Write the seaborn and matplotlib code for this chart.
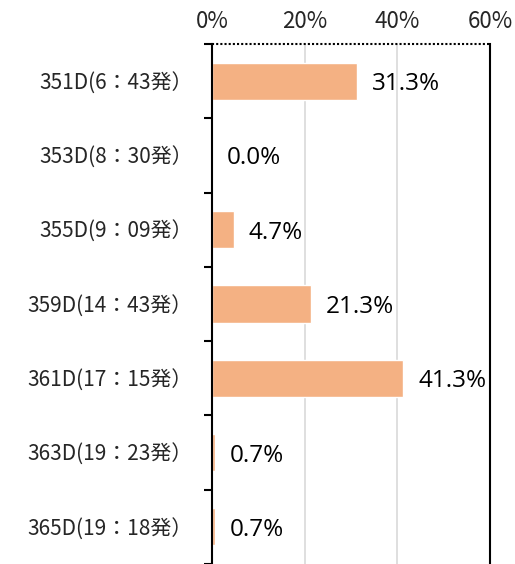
import numpy as np
import pandas as pd
import matplotlib
matplotlib.use("Agg")
import matplotlib.pyplot as plt
import seaborn as sns
from matplotlib.ticker import FixedLocator

trains = ["351D(6：43発）", "353D(8：30発）", "355D(9：09発）", "359D(14：43発）",
          "361D(17：15発）", "363D(19：23発）", "365D(19：18発）"]
shares = [31.3, 0.0, 4.7, 21.3, 41.3, 0.7, 0.7]
x_ticks = [0, 20, 40, 60]
x_ticklabels = ["0%", "20%", "40%", "60%"]

sns.set_style("white")
plt.rcParams['font.family'] = ['Noto Sans CJK JP', 'DejaVu Sans']

df = pd.DataFrame({"train": trains, "share": shares})

fig = plt.figure(figsize=(5.15, 5.64), dpi=100)
ax = fig.add_axes([212 / 515, 0.0, (490 - 212) / 515, 1 - 44 / 564])

sns.barplot(data=df, y="train", x="share", orient="h", color="#F4B183",
            saturation=1, width=0.5, ax=ax)

ax.set_xlim(0, 60)
ax.set_ylim(len(trains) - 0.5, -0.5)
ax.set_xlabel("")
ax.set_ylabel("")

# x axis on top
ax.xaxis.tick_top()
ax.set_xticks(x_ticks)
ax.set_xticklabels(x_ticklabels, fontsize=16)
ax.tick_params(axis="x", length=0, pad=8)
for x in x_ticks[1:3]:
    ax.axvline(x, color="#d9d9d9", lw=1.2, zorder=0)

# y axis: labels without marks, boundary ticks as minor
ax.tick_params(axis="y", which="major", left=False, length=0, pad=14, labelsize=15)
ax.yaxis.set_minor_locator(FixedLocator(np.arange(-0.5, len(trains), 1)))
ax.tick_params(axis="y", which="minor", left=True, length=6, width=1.5,
               color="black", direction="out")

for side in ["left", "right"]:
    ax.spines[side].set_visible(True)
    ax.spines[side].set_color("black")
    ax.spines[side].set_linewidth(1.5)
ax.spines["top"].set_visible(False)
ax.spines["bottom"].set_visible(False)
# dotted top border
ax.plot([0, 1], [1, 1], transform=ax.transAxes, color="black", lw=1.5,
        linestyle=(0, (1, 1)), clip_on=False, zorder=5)

for i, v in enumerate(shares):
    ax.text(v + 3.2, i + 0.04, f"{v:.1f}%", va="center", ha="left", fontsize=17.5,
            family=["Open Sans", "DejaVu Sans"], color="black")

fig.savefig("out.png", dpi=100)
